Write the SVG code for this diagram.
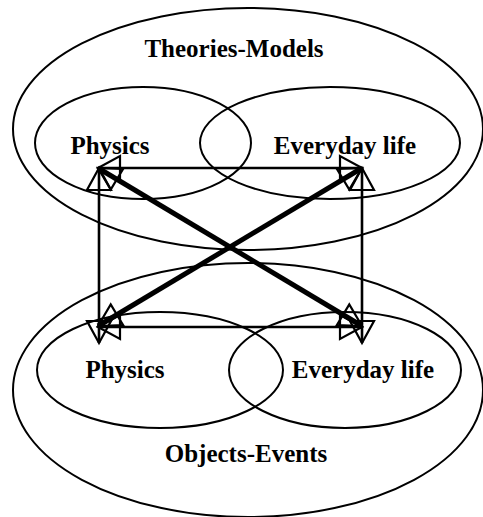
<svg xmlns="http://www.w3.org/2000/svg" width="483" height="517" viewBox="0 0 483 517">
<style>
.e{fill:none;stroke:#000;stroke-width:2}
.t{font-family:"Liberation Serif","Times New Roman",serif;font-weight:bold;font-size:25px;fill:#000;text-anchor:middle}
.c{fill:none;stroke:#000;stroke-width:2.6;marker-start:url(#ah);marker-end:url(#ah)}
.d{fill:none;stroke:#000;stroke-width:5;marker-start:url(#ah);marker-end:url(#ah)}
</style>
<defs>
<marker id="ah" markerUnits="userSpaceOnUse" viewBox="-2 -14 28 28" refX="24" refY="0" markerWidth="28" markerHeight="28" orient="auto-start-reverse" overflow="visible">
<path d="M24,0 L2,-12 L2,12 Z" fill="none" stroke="#000" stroke-width="2.2" stroke-linejoin="miter"/>
</marker>
</defs>
<rect width="483" height="517" fill="#fff"/>
<g id="theories-models">
<ellipse class="e" cx="248" cy="129" rx="235" ry="121"/>
<text class="t" x="234" y="57">Theories-Models</text>
</g>
<g id="objects-events">
<ellipse class="e" cx="248" cy="390" rx="235" ry="127"/>
<text class="t" x="246" y="462">Objects-Events</text>
</g>
<g id="tm-physics">
<ellipse class="e" cx="143" cy="143" rx="108" ry="56"/>
<text class="t" x="110" y="154">Physics</text>
</g>
<g id="tm-everyday">
<ellipse class="e" cx="330" cy="143" rx="130" ry="56"/>
<text class="t" x="345" y="154">Everyday life</text>
</g>
<g id="oe-physics">
<ellipse class="e" cx="160" cy="370" rx="123" ry="58"/>
<text class="t" x="125" y="378">Physics</text>
</g>
<g id="oe-everyday">
<ellipse class="e" cx="345" cy="370" rx="116" ry="58"/>
<text class="t" x="363" y="378">Everyday life</text>
</g>
<g id="connectors">
<line class="c" x1="98" y1="168" x2="362" y2="168"/>
<line class="c" x1="98" y1="327" x2="362" y2="327"/>
<line class="c" x1="99" y1="168" x2="99" y2="343"/>
<line class="c" x1="362" y1="168" x2="362" y2="343"/>
<line class="d" x1="98" y1="168" x2="362" y2="326"/>
<line class="d" x1="98" y1="326" x2="362" y2="168"/>
</g>
</svg>
